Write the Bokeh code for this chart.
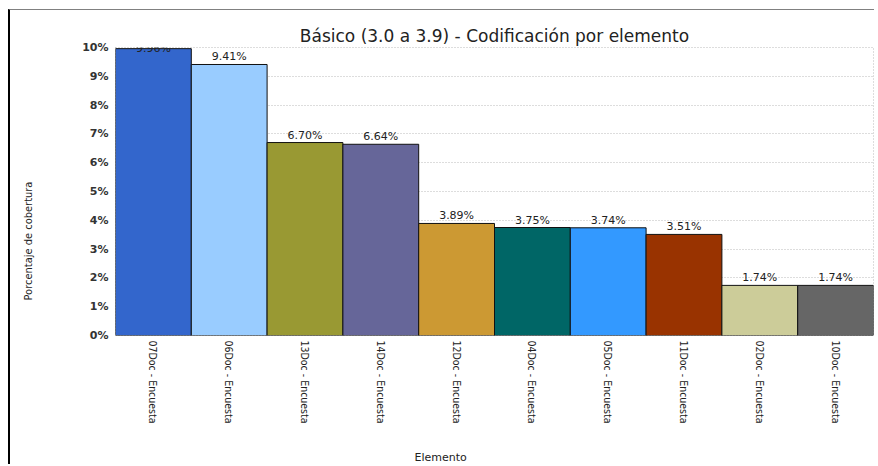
import numpy as np
from bokeh.plotting import figure
from bokeh.models import (ColumnDataSource, FixedTicker, PrintfTickFormatter, FactorRange,
                          Title, LinearAxis, CustomJSTickFormatter)
from bokeh.core.properties import value
from bokeh.embed import file_html
from bokeh.resources import INLINE

# ---- data ----
categories = ["07Doc - Encuesta", "06Doc - Encuesta", "13Doc - Encuesta", "14Doc - Encuesta",
              "12Doc - Encuesta", "04Doc - Encuesta", "05Doc - Encuesta", "11Doc - Encuesta",
              "02Doc - Encuesta", "10Doc - Encuesta"]
values = [9.96, 9.41, 6.70, 6.64, 3.89, 3.75, 3.74, 3.51, 1.74, 1.74]
colors = ["#3366CC", "#99CCFF", "#999933", "#666699", "#CC9933",
          "#006666", "#3399FF", "#993300", "#CCCC99", "#666666"]
y_ticks = [0, 1, 2, 3, 4, 5, 6, 7, 8, 9, 10]
title_text = "Básico (3.0 a 3.9) - Codificación por elemento"
y_label = "Porcentaje de cobertura"
x_label = "Elemento"

Y_MAX = 10
labels = [f"{v:.2f}%" for v in values]
label_y = [min(v, Y_MAX - 0.3) for v in values]

NARROW = "Liberation Sans Narrow, DejaVu Sans Condensed, Liberation Sans"

src = ColumnDataSource(dict(cat=categories, val=values, color=colors, lab=labels, ly=label_y))

p = figure(width=866, height=455, x_range=FactorRange(*categories, range_padding=0),
           y_range=(0, Y_MAX), output_backend="svg", toolbar_location=None,
           min_border_left=105, min_border_right=3, min_border_top=37, min_border_bottom=130)
p.styles = {"margin": "9px 0 0 8px", "border-left": "2px solid #000000",
            "border-top": "1px solid #808080"}
p.background_fill_color = "white"
p.border_fill_color = "white"
p.outline_line_color = "#bbbbbb"
p.outline_line_dash = "1 2"


def spacer(size):
    """An invisible axis (one white tick, empty label) used only to reserve space."""
    return LinearAxis(ticker=FixedTicker(ticks=[0]), axis_line_color=None,
                      major_tick_line_color="#ffffff", minor_tick_line_color=None,
                      major_tick_in=0, major_tick_out=size, minor_tick_out=0,
                      major_label_standoff=0, major_label_text_font_size="1px",
                      formatter=CustomJSTickFormatter(code="return ''"))


# title: placed outside a small spacer so it sits higher above the frame
p.title.text = ""
p.add_layout(spacer(11), "above")
p.add_layout(Title(text=title_text, align="center", standoff=4, text_font="DejaVu Sans",
                   text_font_size="17px", text_font_style="normal", text_color="#222222"),
             "above")

p.vbar(x="cat", top="val", width=1.0, fill_color="color", line_color="#111111",
       line_width=1, source=src)

p.text(x="cat", y="ly", text="lab", source=src, text_align="center", text_baseline="bottom",
       y_offset=-1, text_font=value("DejaVu Sans"), text_font_size="11px", text_color="#222222")

# grid
p.xgrid.grid_line_color = None
p.ygrid.grid_line_color = "#bbbbbb"
p.ygrid.grid_line_dash = "1 2"
p.ygrid.ticker = FixedTicker(ticks=y_ticks)

# y axis
p.yaxis.ticker = FixedTicker(ticks=y_ticks)
p.yaxis.formatter = PrintfTickFormatter(format="%d%%")
p.yaxis.axis_line_color = None
p.yaxis.major_tick_line_color = None
p.yaxis.minor_tick_line_color = None
p.yaxis.major_tick_out = 0
p.yaxis.major_label_standoff = 7
p.yaxis.major_label_text_font = "DejaVu Sans"
p.yaxis.major_label_text_font_style = "bold"
p.yaxis.major_label_text_font_size = "11px"
p.yaxis.major_label_text_color = "#333333"

p.add_layout(spacer(45), "left")
p.add_layout(Title(text=y_label, align="left", offset=35, standoff=0,
                   text_font=NARROW, text_font_size="11px", text_font_style="normal",
                   text_color="#222222"), "left")

# x axis
p.xaxis.axis_line_color = None
p.xaxis.major_tick_line_color = None
p.xaxis.major_tick_out = 0
p.xaxis.major_label_standoff = 5
p.xaxis.major_label_orientation = "vertical"
p.xaxis.major_label_text_font = NARROW
p.xaxis.major_label_text_font_size = "10.5px"
p.xaxis.major_label_text_color = "#222222"

p.add_layout(spacer(22), "below")
p.add_layout(Title(text=x_label, align="left", offset=299, standoff=0,
                   text_font="DejaVu Sans", text_font_size="11px", text_font_style="normal",
                   text_color="#222222"), "below")

open("out.html", "w").write(file_html(p, INLINE))
